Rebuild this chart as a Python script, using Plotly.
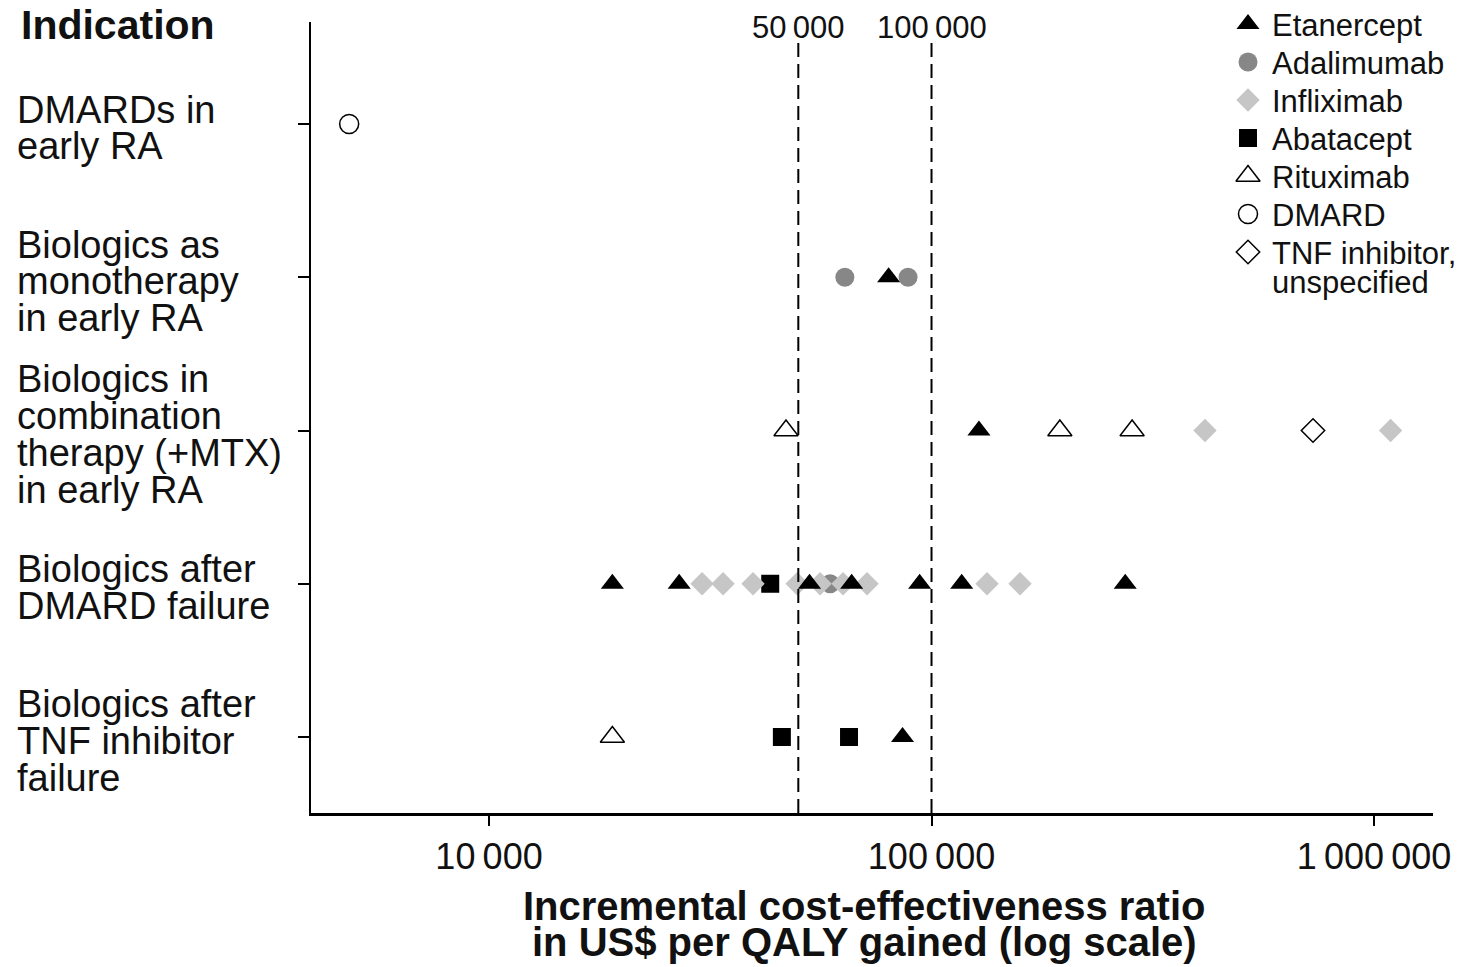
import numpy as np
import plotly.graph_objects as go

# ---------------- data ----------------
row_labels = [
    ["DMARDs in", "early RA"],
    ["Biologics as", "monotherapy", "in early RA"],
    ["Biologics in", "combination", "therapy (+MTX)", "in early RA"],
    ["Biologics after", "DMARD failure"],
    ["Biologics after", "TNF inhibitor", "failure"],
]

# (row index, ICER in US$ per QALY)
etanercept_rows = [1, 2, 3, 3, 3, 3, 3, 3, 3, 4]
etanercept_vals = [80000, 128000, 19000, 26900, 53000, 66000, 94000, 117000, 274000, 86000]

adalimumab_rows = [1, 1, 3]
adalimumab_vals = [63700, 88500, 59000]

infliximab_rows = [2, 2, 3, 3, 3, 3, 3, 3, 3, 3, 3]
infliximab_vals = [415000, 1090000, 30300, 33800, 39500, 49700, 56000, 63100, 71500, 133500, 158500]

abatacept_rows = [3, 4, 4]
abatacept_vals = [43200, 45900, 65100]

rituximab_rows = [2, 2, 2, 4]
rituximab_vals = [46900, 195000, 284000, 19000]

dmard_rows = [0]
dmard_vals = [4830]

tnf_rows = [2]
tnf_vals = [728000]

threshold_vals = [50000, 100000]
threshold_labels = ["50\u2009000", "100\u2009000"]

x_tick_vals = [10000, 100000, 1000000]
x_tick_text = ["10\u2009000", "100\u2009000", "1\u2009000\u2009000"]

title_lines = ["Incremental cost-effectiveness ratio", "in US$ per QALY gained (log scale)"]
y_header = "Indication"

legend_order = ["Etanercept", "Adalimumab", "Infliximab", "Abatacept", "Rituximab", "DMARD", "TNF"]
legend_text = {
    "Etanercept": ["Etanercept"],
    "Adalimumab": ["Adalimumab"],
    "Infliximab": ["Infliximab"],
    "Abatacept": ["Abatacept"],
    "Rituximab": ["Rituximab"],
    "DMARD": ["DMARD"],
    "TNF": ["TNF inhibitor,", "unspecified"],
}

# ---------------- styles ----------------
FONT = "Liberation Sans, Arial, sans-serif"
TXT = "#111111"
styles = {
    "Abatacept": dict(symbol="square", size=18, color="#000000", line=dict(color="#000000", width=0)),
    "Adalimumab": dict(symbol="circle", size=19, color="#878787", line=dict(color="#878787", width=0)),
    "Infliximab": dict(symbol="diamond", size=18, color="#c6c6c6", line=dict(color="#c6c6c6", width=0)),
    "Etanercept": dict(symbol="triangle-up", size=20, color="#000000", line=dict(color="#000000", width=0)),
    "Rituximab": dict(symbol="triangle-up", size=21, color="#ffffff", line=dict(color="#000000", width=1.5)),
    "DMARD": dict(symbol="circle", size=19, color="#ffffff", line=dict(color="#000000", width=1.5)),
    "TNF": dict(symbol="diamond", size=18, color="#ffffff", line=dict(color="#000000", width=1.5)),
}
series = {
    "Abatacept": (abatacept_rows, abatacept_vals),
    "Adalimumab": (adalimumab_rows, adalimumab_vals),
    "Infliximab": (infliximab_rows, infliximab_vals),
    "Etanercept": (etanercept_rows, etanercept_vals),
    "Rituximab": (rituximab_rows, rituximab_vals),
    "DMARD": (dmard_rows, dmard_vals),
    "TNF": (tnf_rows, tnf_vals),
}

W, H = 1463, 967
ML, MR, MT, MB = 311, 30, 22, 154
PX0, PX1 = ML, W - MR
PY0, PY1 = MT, H - MB

fig = go.Figure()

# data marks (drawn back to front)
for key in ["Abatacept", "Adalimumab", "Infliximab", "Etanercept", "Rituximab", "DMARD", "TNF"]:
    rows, vals = series[key]
    fig.add_trace(go.Scatter(
        x=vals, y=rows, mode="markers", name=" ".join(legend_text[key]),
        marker=styles[key], cliponaxis=False, showlegend=False,
    ))

# threshold dashed lines
for v, lab in zip(threshold_vals, threshold_labels):
    fig.add_shape(type="line", xref="x", yref="paper", x0=v, x1=v, y0=0, y1=0.9735,
                  line=dict(color="#000000", width=2, dash="14px,7px"))
    fig.add_annotation(x=np.log10(v), xref="x", y=1.0, yref="paper", yanchor="middle",
                       text=lab, showarrow=False, font=dict(family=FONT, size=31, color=TXT),
                       yshift=-5)

# row labels (left aligned, one annotation per line)
line_gap = 36.7
lab_x = (15 - PX0) / (PX1 - PX0)
for r, lines in enumerate(row_labels):
    n = len(lines)
    for i, t in enumerate(lines):
        off = (i - (n - 1) / 2) * line_gap + 4
        fig.add_annotation(x=lab_x, xref="paper", xanchor="left", y=r, yref="y",
                           yanchor="middle", yshift=-off, text=t, showarrow=False,
                           font=dict(family=FONT, size=38, color=TXT))

fig.add_annotation(x=(19 - PX0) / (PX1 - PX0), xref="paper", xanchor="left", y=1.0, yref="paper",
                   yanchor="middle", yshift=-3, text="<b>" + y_header + "</b>", showarrow=False,
                   font=dict(family=FONT, size=41, color=TXT))

# x-axis title (two lines)
for i, t in enumerate(title_lines):
    fig.add_annotation(x=(864 - PX0) / (PX1 - PX0), xref="paper", xanchor="center", y=0, yref="paper",
                       yanchor="middle", yshift=-(906 - PY1) - 36 * i, text="<b>" + t + "</b>",
                       showarrow=False, font=dict(family=FONT, size=40, color=TXT))

# legend (overlay axes in pixel units)
leg_sym_x, leg_txt_x, leg_y0, leg_step, leg_line = 1248, 1270, 24, 38, 29
for i, key in enumerate(legend_order):
    yy = leg_y0 + leg_step * i
    fig.add_trace(go.Scatter(x=[leg_sym_x], y=[yy], xaxis="x2", yaxis="y2", mode="markers",
                             marker=styles[key], showlegend=False, cliponaxis=False, hoverinfo="skip"))
    for j, t in enumerate(legend_text[key]):
        fig.add_annotation(x=leg_txt_x, xref="x2", xanchor="left", y=yy + 1 + leg_line * j, yref="y2",
                           yanchor="middle", text=t, showarrow=False,
                           font=dict(family=FONT, size=31, color=TXT))

fig.update_xaxes(
    type="log", range=[3.5977, 6.1333],
    tickvals=x_tick_vals, ticktext=x_tick_text,
    ticks="outside", ticklen=10, tickwidth=2, tickcolor="#000",
    showline=True, linewidth=2.5, linecolor="#000", showgrid=False, zeroline=False,
    tickfont=dict(family=FONT, size=36, color=TXT),
)
fig.update_yaxes(
    range=[4.496, -0.666], tickvals=list(range(len(row_labels))),
    ticktext=[""] * len(row_labels),
    ticks="outside", ticklen=11, tickwidth=2, tickcolor="#000",
    showline=True, linewidth=2.5, linecolor="#000", showgrid=False, zeroline=False,
)

fig.update_layout(
    width=W, height=H,
    margin=dict(l=ML, r=MR, t=MT, b=MB, autoexpand=False),
    paper_bgcolor="#ffffff", plot_bgcolor="#ffffff",
    showlegend=False,
    hovermode=False,
    xaxis2=dict(overlaying="x", range=[PX0, PX1], visible=False, fixedrange=True),
    yaxis2=dict(overlaying="y", range=[PY1, PY0], visible=False, fixedrange=True),
    font=dict(family=FONT),
)

fig.write_html("out.html",
               config={"displayModeBar": False, "staticPlot": True},
               post_script="document.body.style.margin='0px';document.body.style.overflow='hidden';")
